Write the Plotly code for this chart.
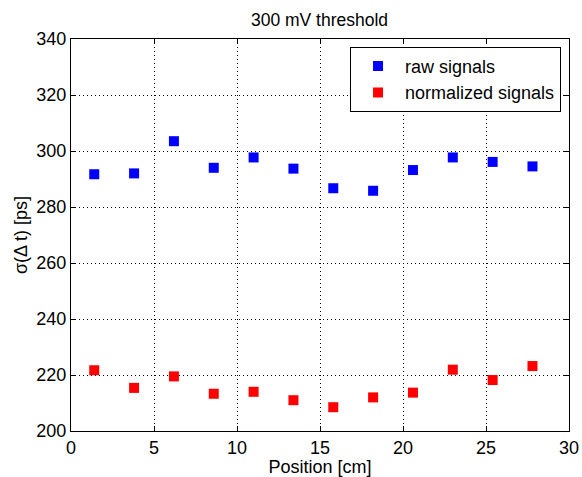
import plotly.graph_objects as go

# Detector position along the bar (cm)
positions = [1.4, 3.8, 6.2, 8.6, 11.0, 13.4, 15.8, 18.2, 20.6, 23.0, 25.4, 27.8]

# Time-difference resolution sigma(dt) in ps
raw_sigma = [291.7, 292.0, 303.5, 294.0, 297.7, 293.7, 286.7, 285.8, 293.2, 297.7, 296.1, 294.5]
norm_sigma = [221.7, 215.4, 219.5, 213.3, 214.0, 211.0, 208.5, 212.0, 213.7, 221.9, 218.2, 223.2]

x_ticks = [0, 5, 10, 15, 20, 25, 30]
y_ticks = [200, 220, 240, 260, 280, 300, 320, 340]

FONT = "Liberation Sans, Arial, Helvetica, sans-serif"
FS = 18

fig = go.Figure()
fig.add_trace(go.Scatter(
    x=positions, y=raw_sigma, mode="markers", name="raw signals",
    marker=dict(symbol="square", size=10, color="#0000ff"),
))
fig.add_trace(go.Scatter(
    x=positions, y=norm_sigma, mode="markers", name="normalized signals",
    marker=dict(symbol="square", size=10, color="#ff0000"),
))

axis_common = dict(
    showline=True, linecolor="#000", linewidth=1, mirror="ticks",
    ticks="inside", ticklen=5, tickcolor="#000", tickwidth=1,
    showgrid=True, gridcolor="#000", gridwidth=1, griddash="1px,3px",
    zeroline=False, automargin=False,
    tickfont=dict(family=FONT, size=FS, color="#000"),
)

fig.update_xaxes(
    range=[0, 30], tickvals=x_ticks, ticktext=[str(v) for v in x_ticks],
    title=dict(text="Position [cm]", font=dict(family=FONT, size=FS, color="#000"), standoff=3),
    **axis_common,
)
fig.update_yaxes(
    range=[200, 340], tickvals=y_ticks, ticktext=[str(v) for v in y_ticks],
    title=dict(text="σ(Δ t) [ps]", font=dict(family=FONT, size=FS, color="#000"), standoff=4),
    **axis_common,
)

fig.update_layout(
    width=582, height=477,
    margin=dict(l=71, r=13, t=39, b=46, autoexpand=False),
    paper_bgcolor="white", plot_bgcolor="white",
    font=dict(family=FONT, size=FS, color="#000"),
    title=dict(text="300 mV threshold", x=0.549, xanchor="center",
               y=1 - 20 / 477, yanchor="middle", yref="container",
               font=dict(family=FONT, size=17.5, color="#000")),
    legend=dict(
        x=0.984, xanchor="right", y=0.98, yanchor="top",
        bgcolor="white", bordercolor="#000", borderwidth=1,
        font=dict(family=FONT, size=FS, color="#000"),
        itemwidth=44,
    ),
)

fig.write_html("out.html")
